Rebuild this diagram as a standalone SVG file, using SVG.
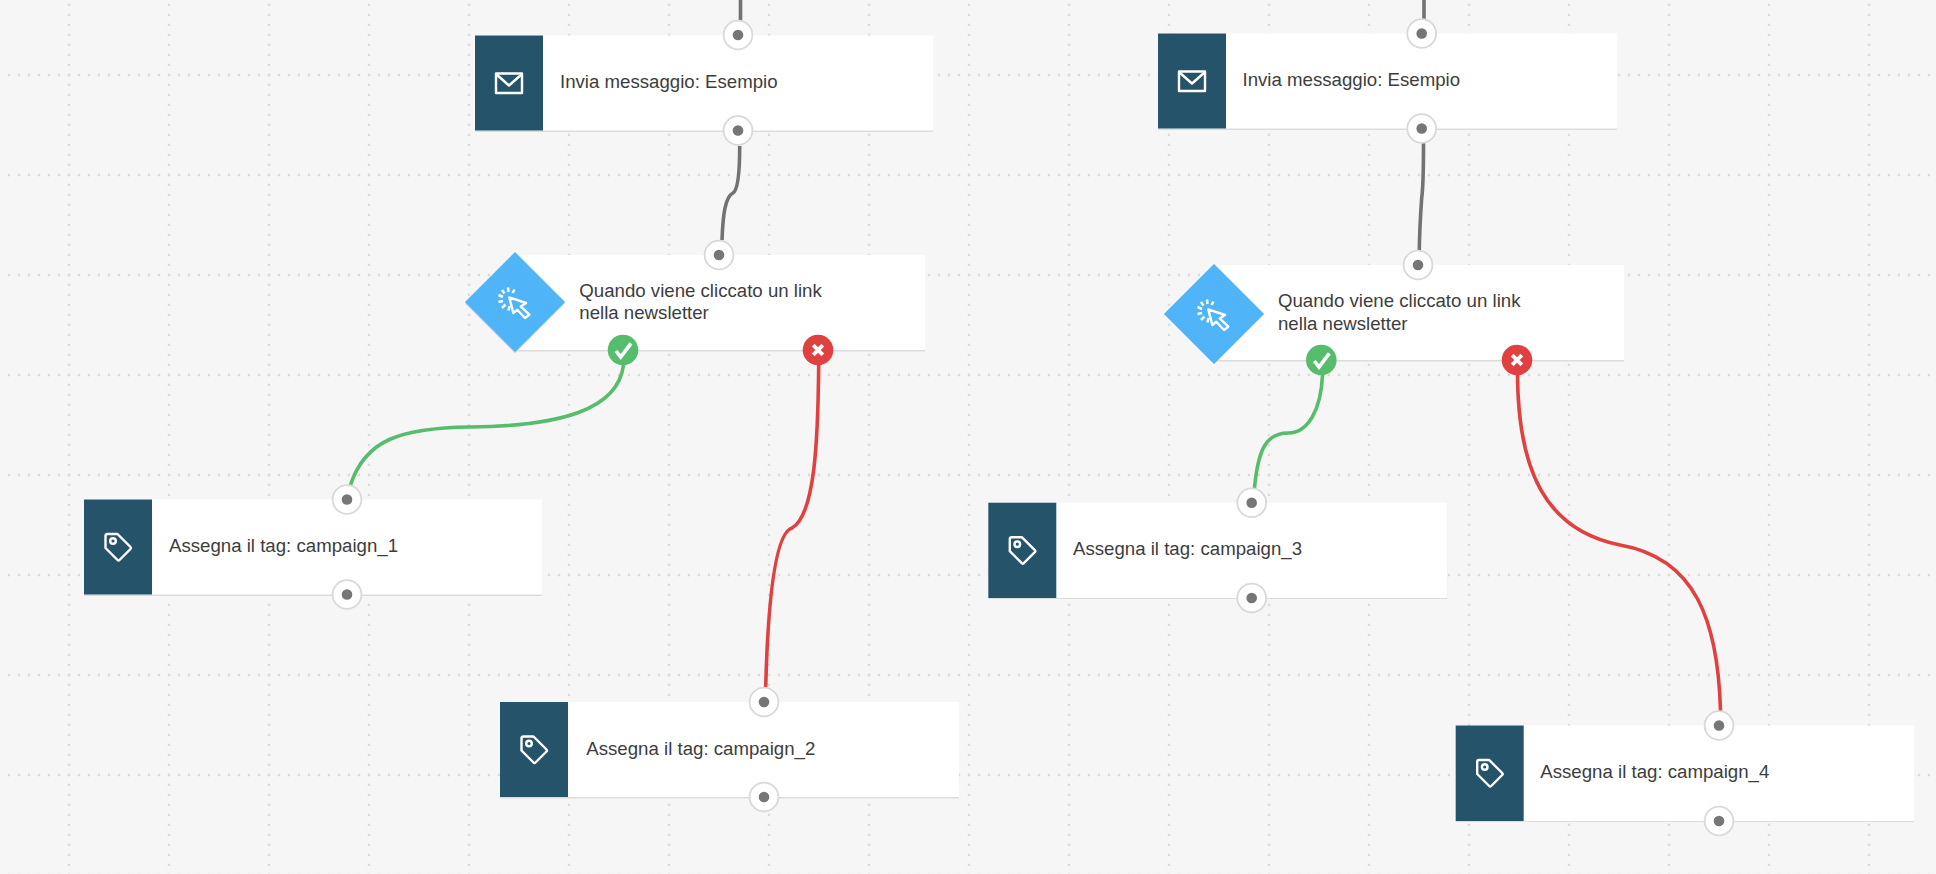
<svg xmlns="http://www.w3.org/2000/svg" width="1936" height="874" viewBox="0 0 1936 874">
<style>
.card{fill:#fff}
.edge{fill:#dcdcdc}
.tile{fill:#25546a}
.lbl{font-family:"Liberation Sans",Arial,sans-serif;font-size:18.65px;fill:#3d3d3d}
.wire{fill:none;stroke-width:3.6;stroke-linecap:butt}
.gray{stroke:#727272}
.green{stroke:#56bd6c}
.red{stroke:#e04040}
.ico{fill:none;stroke:#fff;stroke-width:2.4;stroke-linejoin:round}
</style>
<defs>
<pattern id="grid" width="100" height="100" patternUnits="userSpaceOnUse">
<path d="M69 3.800V100" fill="none" stroke="#dadada" stroke-width="2.300" stroke-dasharray="2.300 7.700"/>
<path d="M7.800 75H100" fill="none" stroke="#dadada" stroke-width="2.300" stroke-dasharray="2.300 7.700"/>
</pattern>
<g id="port"><circle r="14.400" fill="#fff" stroke="#d9d9d9" stroke-width="1.800"/><circle r="5.300" fill="#767676"/></g>
<g id="yes"><circle r="15.300" fill="#56bd6c"/><path d="M-7 1L-2.300 7L8 -6.700" fill="none" stroke="#fff" stroke-width="3.600"/></g>
<g id="no"><circle r="15.300" fill="#e04040"/><path d="M-4.800 -4.800L4.800 4.800M4.800 -4.800L-4.800 4.800" fill="none" stroke="#fff" stroke-width="3.800"/></g>
<g id="mail"><rect x="21" y="38" width="26" height="19.500" class="ico"/><path d="M21 38.500L34 50L47 38.500" class="ico"/></g>
<g id="tag"><path d="M21.500 36.500Q21.500 34.500 23.500 34.500H33.500L46.500 47.500Q47.500 48.500 46.500 49.500L35.500 60.500Q34.500 61.500 33.500 60.500L21.500 48.500Z" class="ico"/><circle cx="29" cy="41.500" r="2.800" class="ico"/></g>
<g id="click"><path d="M-5.700 -4.600L11 1L5.700 4.400L14.300 12.700L10 16L2.300 7.700L-1.700 11Z" class="ico"/><path d="M-2.500 -9L-0.500 -12.500M-6.500 -10L-7 -14.500M-10.500 -8.500L-13 -12M-12 -5L-16.500 -7M-12 -1L-16.500 0M-9.500 2.500L-13 6M-5.500 4L-6.500 8.500" fill="none" stroke="#fff" stroke-width="2.500"/></g>
</defs>
<rect width="1936" height="874" fill="#f6f6f6"/>
<rect width="1936" height="874" fill="url(#grid)"/>
<g id="connectors">
<path class="wire gray" d="M740.500 0V21"/>
<path class="wire gray" d="M739.700 146C739.700 170 738 190 733 193C725 197 723 215 722 240"/>
<path class="wire gray" d="M1424 0V19"/>
<path class="wire gray" d="M1423.500 143C1423.500 165 1423.500 185 1421.700 198C1420.500 215 1419.500 235 1419.300 250"/>
<path class="wire green" d="M623.500 365C618 410 560 426 470 427C400 428 365 440 350.500 485"/>
<path class="wire red" d="M818.700 365C818 440 815 515 792 528C775 533 768 600 765.700 687"/>
<path class="wire green" d="M1322.500 375C1321 410 1308 433 1288 433C1266 433 1258 450 1254.500 488"/>
<path class="wire red" d="M1517.500 374C1518 470 1545 530 1620 545C1695 558 1718 620 1720.500 711"/>
</g>
<g id="send-1">
<rect class="edge" x="475" y="36" width="458" height="96"/><rect class="card" x="475" y="35.500" width="458" height="95"/><rect class="tile" x="475" y="35.500" width="68" height="95"/>
<use href="#mail" x="475" y="35.500"/>
<text class="lbl" x="560" y="88">Invia messaggio: Esempio</text>
<use href="#port" x="738" y="35"/><use href="#port" x="738" y="130.500"/>
</g>
<g id="click-1">
<rect class="edge" x="515" y="256" width="410" height="95.500"/><rect class="card" x="515" y="255" width="410" height="95"/>
<path d="M515 253L565 302.500L515 352.500L465 302.500Z" fill="#cfd8de" transform="translate(0 1)"/><path d="M515 252L565 302L515 352L465 302Z" fill="#4fb4f8"/>
<use href="#click" x="515" y="302"/>
<text class="lbl" x="579.300" y="297">Quando viene cliccato un link</text><text class="lbl" x="579.300" y="319">nella newsletter</text>
<use href="#port" x="719" y="255"/><use href="#yes" x="623" y="350"/><use href="#no" x="818" y="350"/>
</g>
<g id="tag-1">
<rect class="edge" x="84" y="500" width="458.500" height="96"/><rect class="card" x="84" y="499.500" width="458.500" height="95"/><rect class="tile" x="84" y="499.500" width="68" height="95"/>
<use href="#tag" x="84" y="499.500"/>
<text class="lbl" x="169" y="552">Assegna il tag: campaign_1</text>
<use href="#port" x="347" y="499.500"/><use href="#port" x="347" y="594.500"/>
</g>
<g id="tag-2">
<rect class="edge" x="500" y="702.500" width="459" height="96"/><rect class="card" x="500" y="702" width="459" height="95"/><rect class="tile" x="500" y="702" width="68" height="95"/>
<use href="#tag" x="500" y="702"/>
<text class="lbl" x="586.300" y="755">Assegna il tag: campaign_2</text>
<use href="#port" x="764" y="702"/><use href="#port" x="764" y="797"/>
</g>
<g id="send-2">
<rect class="edge" x="1158" y="34" width="459" height="96"/><rect class="card" x="1158" y="33.500" width="459" height="95"/><rect class="tile" x="1158" y="33.500" width="68" height="95"/>
<use href="#mail" x="1158" y="33.500"/>
<text class="lbl" x="1242.500" y="86">Invia messaggio: Esempio</text>
<use href="#port" x="1421.700" y="33.500"/><use href="#port" x="1421.700" y="128.500"/>
</g>
<g id="click-2">
<rect class="edge" x="1214" y="265.500" width="410" height="96"/><rect class="card" x="1214" y="265" width="410" height="95"/>
<path d="M1214 263L1264 313L1214 363L1164 313Z" fill="#cfd8de" transform="translate(0 1)"/><path d="M1214 264L1264 314L1214 364L1164 314Z" fill="#4fb4f8"/>
<use href="#click" x="1214" y="314"/>
<text class="lbl" x="1278" y="307">Quando viene cliccato un link</text><text class="lbl" x="1278" y="329.500">nella newsletter</text>
<use href="#port" x="1418" y="265"/><use href="#yes" x="1321.300" y="360"/><use href="#no" x="1517" y="360"/>
</g>
<g id="tag-3">
<rect class="edge" x="988.300" y="503" width="459" height="96"/><rect class="card" x="988.300" y="502.700" width="459" height="95.300"/><rect class="tile" x="988.300" y="502.700" width="68" height="95.300"/>
<use href="#tag" x="988.300" y="502.700"/>
<text class="lbl" x="1073" y="555">Assegna il tag: campaign_3</text>
<use href="#port" x="1251.700" y="502.700"/><use href="#port" x="1251.700" y="598"/>
</g>
<g id="tag-4">
<rect class="edge" x="1455.700" y="726" width="458.300" height="96"/><rect class="card" x="1455.700" y="725.500" width="458.300" height="95.500"/><rect class="tile" x="1455.700" y="725.500" width="68" height="95.500"/>
<use href="#tag" x="1455.700" y="725.500"/>
<text class="lbl" x="1540.300" y="778">Assegna il tag: campaign_4</text>
<use href="#port" x="1719" y="725.500"/><use href="#port" x="1719" y="821"/>
</g>
</svg>
